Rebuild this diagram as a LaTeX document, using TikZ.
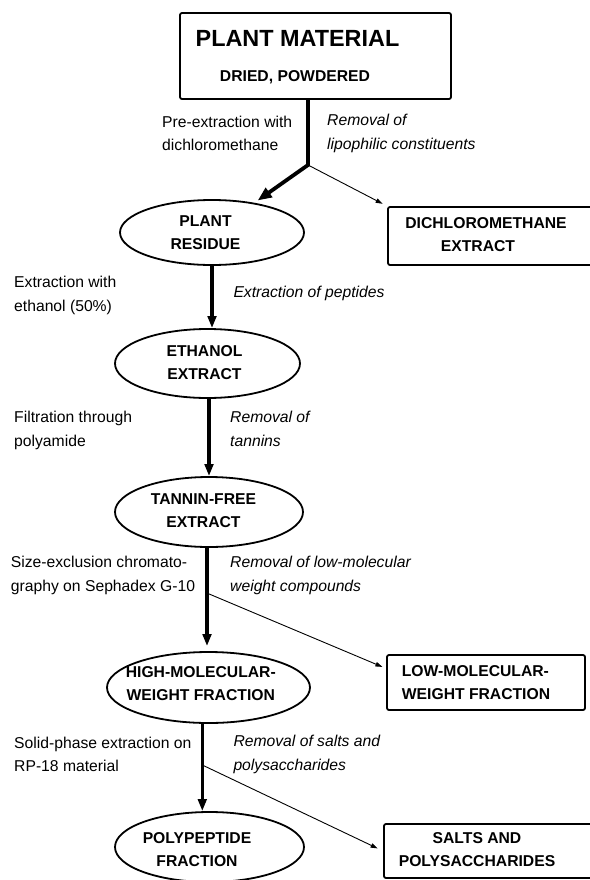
\documentclass[tikz,border=0pt]{standalone}
\usepackage{fontspec}
\setmainfont{Liberation Sans}
\usetikzlibrary{arrows.meta,shapes.geometric}
\begin{document}
\begin{tikzpicture}[x=1bp,y=-1bp,
  txt/.style={inner sep=0pt, font=\fontsize{15.7bp}{23.5bp}\selectfont, align=left, anchor=west},
  ital/.style={txt, font=\fontsize{15.7bp}{23.5bp}\selectfont\itshape},
  caps/.style={inner sep=0pt, font=\fontsize{15.7bp}{23bp}\selectfont\bfseries, align=center},
  oval/.style={draw, ellipse, line width=1.8bp, inner sep=0pt},
  rbox/.style={draw, rectangle, rounded corners=2bp, line width=1.8bp, inner sep=0pt},
  mainflow/.style={line width=3.3bp, -{Triangle[length=12bp,width=8.5bp]}},
  diagflow/.style={line width=3.8bp, -{Triangle[length=14bp,width=11bp]}},
  sideflow/.style={line width=0.9bp, -{Triangle[length=7bp,width=4.5bp]}},
]
\useasboundingbox (0,0) rectangle (590,880);

% boxes and ellipses
\node[rbox, minimum width=271bp, minimum height=86bp] (pm) at (315.5,56) {};
\node[caps, font=\fontsize{23.4bp}{28bp}\selectfont\bfseries] (pmtitle) at (297.5,38) {PLANT MATERIAL};
\node[caps] (pmsub) at (295,77.5) {DRIED, POWDERED};

\node[oval, minimum width=184bp, minimum height=65bp] (residue) at (212,232.5) {};
\node[caps] (residuet) at (205.5,232.3) {PLANT\\RESIDUE};

\node[rbox, minimum width=212bp, minimum height=58bp] (dcm) at (494,236) {};
\node[caps] (dcmt) at (486,234.3) {DICHLOROMETHANE\\EXTRACT\hspace*{16bp}};

\node[oval, minimum width=185bp, minimum height=69bp] (ethanol) at (207.5,363.5) {};
\node[caps] (ethanolt) at (204.5,362.9) {ETHANOL\\EXTRACT};

\node[oval, minimum width=188bp, minimum height=70bp] (tannin) at (209,512) {};
\node[caps] (tannint) at (203.5,510.6) {TANNIN-FREE\\EXTRACT};

\node[oval, minimum width=203bp, minimum height=71bp] (high) at (208.5,687.5) {};
\node[caps] (hight) at (200.8,683.8) {HIGH-MOLECULAR-\\WEIGHT FRACTION};

\node[rbox, minimum width=198bp, minimum height=55bp] (low) at (486,682.5) {};
\node[caps, align=left, anchor=west] (lowt) at (401.7,682.5) {LOW-MOLECULAR-\\WEIGHT FRACTION};

\node[oval, minimum width=189bp, minimum height=70bp] (poly) at (209.5,847) {};
\node[caps] (polyt) at (197,849.5) {POLYPEPTIDE\\FRACTION};

\node[rbox, minimum width=216bp, minimum height=54bp] (salts) at (492,851) {};
\node[caps] (saltst) at (477,849.2) {SALTS AND\\POLYSACCHARIDES};

% step labels
\node[txt] (l1) at (162,134.5) {\strut Pre-extraction with\\\strut dichloromethane};
\node[ital] (r1) at (327,132.8) {\strut Removal of\\\strut lipophilic constituents};
\node[txt] (l2) at (14,294.6) {\strut Extraction with\\\strut ethanol (50\%)};
\node[ital] (r2) at (233.3,292.7) {\strut Extraction of peptides};
\node[txt] (l3) at (14,429.9) {\strut Filtration through\\\strut polyamide};
\node[ital] (r3) at (230,429.9) {\strut Removal of\\\strut tannins};
\node[txt] (l4) at (10.7,574.6) {\strut Size-exclusion chromato-\\\strut graphy on Sephadex G-10};
\node[ital] (r4) at (230,574.6) {\strut Removal of low-molecular\\\strut weight compounds};
\node[txt] (l5) at (14,755.2) {\strut Solid-phase extraction on\\\strut RP-18 material};
\node[ital] (r5) at (233.3,754) {\strut Removal of salts and\\\strut polysaccharides};

% connectors
\coordinate (b1) at (308,165);
\draw[diagflow, shorten >=4bp] (pm.south -| b1) -- (b1) -- (residue.35);
\draw[sideflow, shorten >=5bp] (b1) -- (dcm.north west);

\draw[mainflow] (residue.south) -- (residue.south |- ethanol.north);
\draw[mainflow] ([xshift=1.5bp]ethanol.south) -- ([xshift=1.5bp]ethanol.south |- tannin.north);
\draw[mainflow, shorten >=5bp] ([xshift=-2bp]tannin.south) -- ([xshift=-2bp]tannin.south |- high.north);
\coordinate (b2) at (206.8,593);
\draw[sideflow, shorten >=4bp] (b2) -- (low.172);
\draw[mainflow] ([xshift=-6.2bp]high.south) -- ([xshift=-6.2bp]high.south |- poly.north);
\coordinate (b3) at (202.3,765);
\draw[sideflow, shorten >=6bp] (b3) -- (salts.west);
\end{tikzpicture}
\end{document}
